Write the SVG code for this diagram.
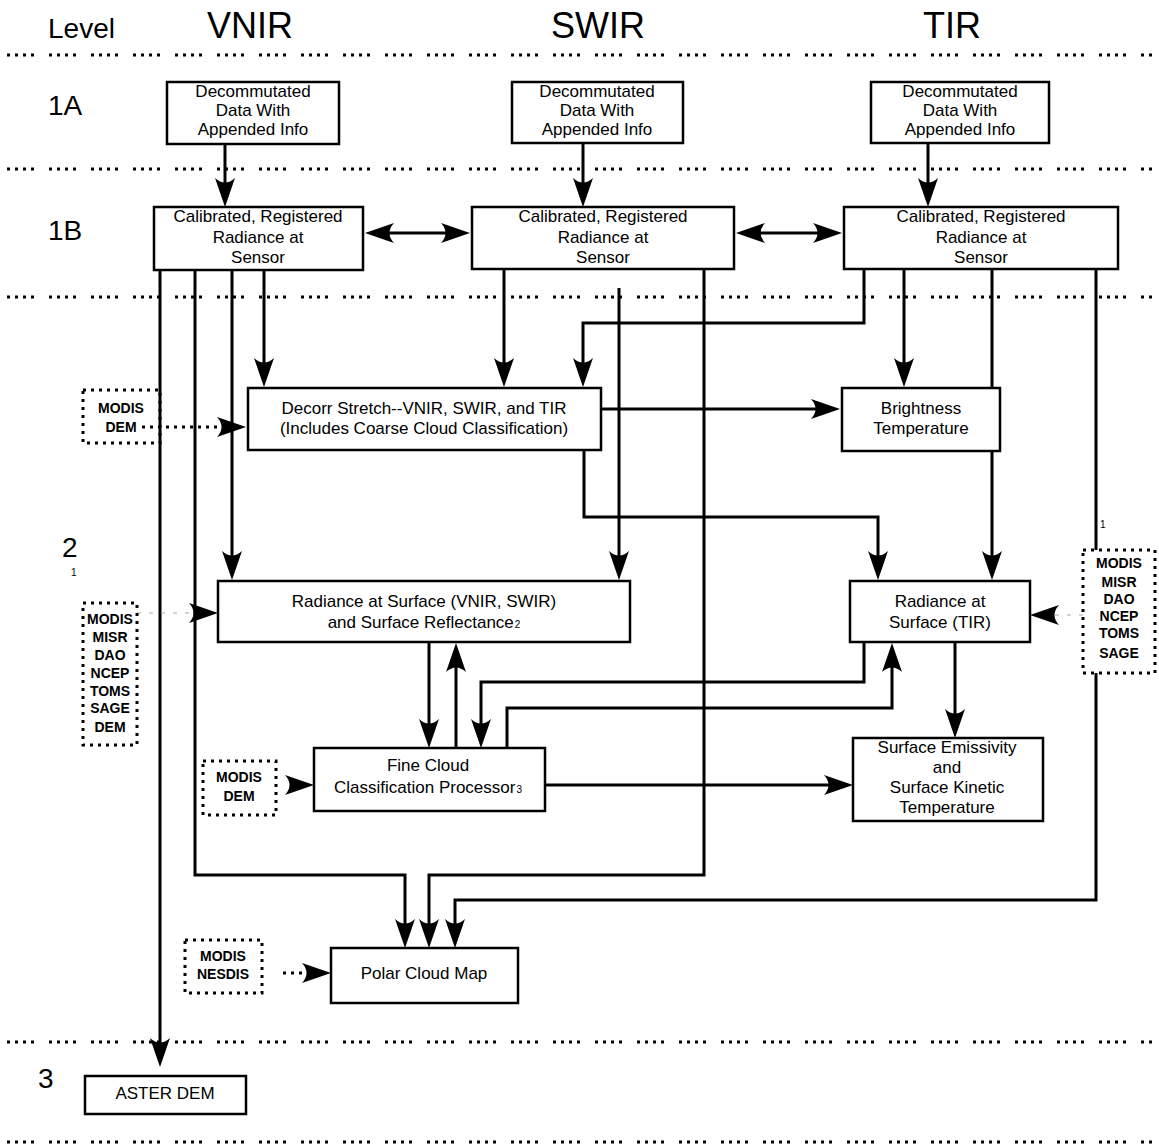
<svg xmlns="http://www.w3.org/2000/svg" width="1159" height="1144" viewBox="0 0 1159 1144">
<style>
text{font-family:"Liberation Sans",Arial,sans-serif;fill:#000}
.hdr{font-size:36px;text-anchor:middle}
.lvl{font-size:28px}
.bt{font-size:17px;text-anchor:middle}
.sub{font-size:10px}
.dt{font-size:14px;font-weight:bold;text-anchor:middle}
.box{fill:#fff;stroke:#000;stroke-width:2.5}
.dbox{fill:none;stroke:#000;stroke-width:3;stroke-dasharray:3 5}
.sep{fill:none;stroke:#000;stroke-width:3;stroke-dasharray:3 5 3 5 3 5 3 15}
.c{fill:none;stroke:#000;stroke-width:3}
.cd{fill:none;stroke:#000;stroke-width:3;stroke-dasharray:3 5}
.cg{fill:none;stroke:#aaa;stroke-width:1;stroke-dasharray:4 8}
</style>
<defs>
<marker id="ah" markerUnits="userSpaceOnUse" viewBox="0 0 32 22" markerWidth="32" markerHeight="22" refX="20" refY="11" orient="auto-start-reverse">
<path d="M30,11 L1,1 Q10,11 1,21 Z" fill="#000"/>
</marker>
</defs>

<g id="headers">
<text class="lvl" x="48" y="38">Level</text>
<text class="hdr" x="250" y="38">VNIR</text>
<text class="hdr" x="598" y="38">SWIR</text>
<text class="hdr" x="952" y="38">TIR</text>
<text class="lvl" x="48" y="115">1A</text>
<text class="lvl" x="48" y="240">1B</text>
<text class="lvl" x="62" y="557">2</text>
<text class="sub" x="71" y="576">1</text>
<text class="lvl" x="38" y="1088">3</text>
</g>

<g id="separators">
<path class="sep" d="M7,55 H1152"/>
<path class="sep" d="M7,169 H1152"/>
<path class="sep" d="M7,297 H1152"/>
<path class="sep" d="M7,1042 H1152"/>
<path class="sep" d="M7,1142 H1152"/>
</g>

<g id="connectors">
<path class="c" d="M225,144 V197" marker-end="url(#ah)"/>
<path class="c" d="M583,143 V197" marker-end="url(#ah)"/>
<path class="c" d="M928,143 V197" marker-end="url(#ah)"/>
<path class="c" d="M375,233 H460" marker-start="url(#ah)" marker-end="url(#ah)"/>
<path class="c" d="M746,233 H832" marker-start="url(#ah)" marker-end="url(#ah)"/>
<path class="c" d="M160,270 V1057" marker-end="url(#ah)"/>
<path class="c" d="M195,270 V875 H405 V938" marker-end="url(#ah)"/>
<path class="c" d="M232,270 V570" marker-end="url(#ah)"/>
<path class="c" d="M264,270 V377" marker-end="url(#ah)"/>
<path class="c" d="M504,269 V377" marker-end="url(#ah)"/>
<path class="c" d="M619,288 V570" marker-end="url(#ah)"/>
<path class="c" d="M704,269 V875 H429 V938" marker-end="url(#ah)"/>
<path class="c" d="M864,269 V323 H583 V377" marker-end="url(#ah)"/>
<path class="c" d="M904,269 V377" marker-end="url(#ah)"/>
<path class="c" d="M992,269 V570" marker-end="url(#ah)"/>
<path class="c" d="M1096,269 V550"/>
<path class="c" d="M1096,673 V900 H455 V938" marker-end="url(#ah)"/>
<path class="c" d="M601,409 H830" marker-end="url(#ah)"/>
<path class="c" d="M584,451 V517 H878 V570" marker-end="url(#ah)"/>
<path class="c" d="M429,642 V738" marker-end="url(#ah)"/>
<path class="c" d="M456,748 V653" marker-end="url(#ah)"/>
<path class="c" d="M864,642 V682 H481 V738" marker-end="url(#ah)"/>
<path class="c" d="M507,748 V708 H892 V653" marker-end="url(#ah)"/>
<path class="c" d="M955,642 V728" marker-end="url(#ah)"/>
<path class="c" d="M545,785 H843" marker-end="url(#ah)"/>
<path class="cd" d="M142,427 H236" marker-end="url(#ah)"/>
<path class="cg" d="M137,613 H208"/>
<path class="c" d="M207,613 H208" stroke="none" marker-end="url(#ah)"/>
<path class="cg" d="M1083,615 H1040"/>
<path class="c" d="M1041,615 H1040" stroke="none" marker-end="url(#ah)"/>
<path class="c" d="M303,785 H304" stroke="none" marker-end="url(#ah)"/>
<path class="cd" d="M283,973 H321" marker-end="url(#ah)"/>
</g>

<g id="n-1a-vnir">
<rect class="box" x="167" y="82" width="172" height="62"/>
<text class="bt" x="253" y="97">Decommutated</text>
<text class="bt" x="253" y="116">Data With</text>
<text class="bt" x="253" y="135">Appended Info</text>
</g>
<g id="n-1a-swir">
<rect class="box" x="512" y="82" width="171" height="61"/>
<text class="bt" x="597" y="97">Decommutated</text>
<text class="bt" x="597" y="116">Data With</text>
<text class="bt" x="597" y="135">Appended Info</text>
</g>
<g id="n-1a-tir">
<rect class="box" x="871" y="82" width="178" height="61"/>
<text class="bt" x="960" y="97">Decommutated</text>
<text class="bt" x="960" y="116">Data With</text>
<text class="bt" x="960" y="135">Appended Info</text>
</g>

<g id="n-1b-vnir">
<rect class="box" x="154" y="207" width="209" height="63"/>
<text class="bt" x="258" y="222">Calibrated, Registered</text>
<text class="bt" x="258" y="243">Radiance at</text>
<text class="bt" x="258" y="263">Sensor</text>
</g>
<g id="n-1b-swir">
<rect class="box" x="472" y="207" width="262" height="62"/>
<text class="bt" x="603" y="222">Calibrated, Registered</text>
<text class="bt" x="603" y="243">Radiance at</text>
<text class="bt" x="603" y="263">Sensor</text>
</g>
<g id="n-1b-tir">
<rect class="box" x="844" y="207" width="274" height="62"/>
<text class="bt" x="981" y="222">Calibrated, Registered</text>
<text class="bt" x="981" y="243">Radiance at</text>
<text class="bt" x="981" y="263">Sensor</text>
</g>

<g id="n-modis-dem-1">
<rect class="dbox" x="83" y="390" width="77" height="53"/>
<text class="dt" x="121" y="413">MODIS</text>
<text class="dt" x="121" y="432">DEM</text>
</g>

<g id="n-decorr">
<rect class="box" x="248" y="388" width="353" height="62"/>
<text class="bt" x="424" y="414">Decorr Stretch--VNIR, SWIR, and TIR</text>
<text class="bt" x="424" y="434">(Includes Coarse Cloud Classification)</text>
</g>

<g id="n-brightness">
<rect class="box" x="842" y="388" width="158" height="63"/>
<text class="bt" x="921" y="414">Brightness</text>
<text class="bt" x="921" y="434">Temperature</text>
</g>

<g id="n-ancillary-left">
<rect class="dbox" x="83" y="603" width="54" height="142"/>
<text class="dt" x="110" y="624">MODIS</text>
<text class="dt" x="110" y="642">MISR</text>
<text class="dt" x="110" y="660">DAO</text>
<text class="dt" x="110" y="678">NCEP</text>
<text class="dt" x="110" y="696">TOMS</text>
<text class="dt" x="110" y="713">SAGE</text>
<text class="dt" x="110" y="732">DEM</text>
</g>

<g id="n-rad-surf-vs">
<rect class="box" x="218" y="581" width="412" height="61"/>
<text class="bt" x="424" y="607">Radiance at Surface (VNIR, SWIR)</text>
<text class="bt" x="424" y="628">and Surface Reflectance<tspan class="sub" dx="1">2</tspan></text>
</g>

<g id="n-rad-surf-tir">
<rect class="box" x="850" y="581" width="180" height="61"/>
<text class="bt" x="940" y="607">Radiance at</text>
<text class="bt" x="940" y="628">Surface (TIR)</text>
</g>

<g id="n-ancillary-right">
<text class="sub" x="1100" y="528">1</text>
<rect class="dbox" x="1083" y="550" width="72" height="123"/>
<text class="dt" x="1119" y="568">MODIS</text>
<text class="dt" x="1119" y="587">MISR</text>
<text class="dt" x="1119" y="604">DAO</text>
<text class="dt" x="1119" y="621">NCEP</text>
<text class="dt" x="1119" y="638">TOMS</text>
<text class="dt" x="1119" y="658">SAGE</text>
</g>

<g id="n-modis-dem-2">
<rect class="dbox" x="203" y="761" width="73" height="54"/>
<text class="dt" x="239" y="782">MODIS</text>
<text class="dt" x="239" y="801">DEM</text>
</g>

<g id="n-fine-cloud">
<rect class="box" x="314" y="748" width="231" height="63"/>
<text class="bt" x="428" y="771">Fine Cloud</text>
<text class="bt" x="428" y="793">Classification Processor<tspan class="sub" dx="1">3</tspan></text>
</g>

<g id="n-surf-emis">
<rect class="box" x="853" y="738" width="190" height="83"/>
<text class="bt" x="947" y="753">Surface Emissivity</text>
<text class="bt" x="947" y="773">and</text>
<text class="bt" x="947" y="793">Surface Kinetic</text>
<text class="bt" x="947" y="813">Temperature</text>
</g>

<g id="n-modis-nesdis">
<rect class="dbox" x="185" y="940" width="77" height="53"/>
<text class="dt" x="223" y="961">MODIS</text>
<text class="dt" x="223" y="979">NESDIS</text>
</g>

<g id="n-polar">
<rect class="box" x="331" y="948" width="187" height="55"/>
<text class="bt" x="424" y="979">Polar Cloud Map</text>
</g>

<g id="n-aster-dem">
<rect class="box" x="85" y="1076" width="161" height="38"/>
<text class="bt" x="165" y="1099">ASTER DEM</text>
</g>
</svg>
